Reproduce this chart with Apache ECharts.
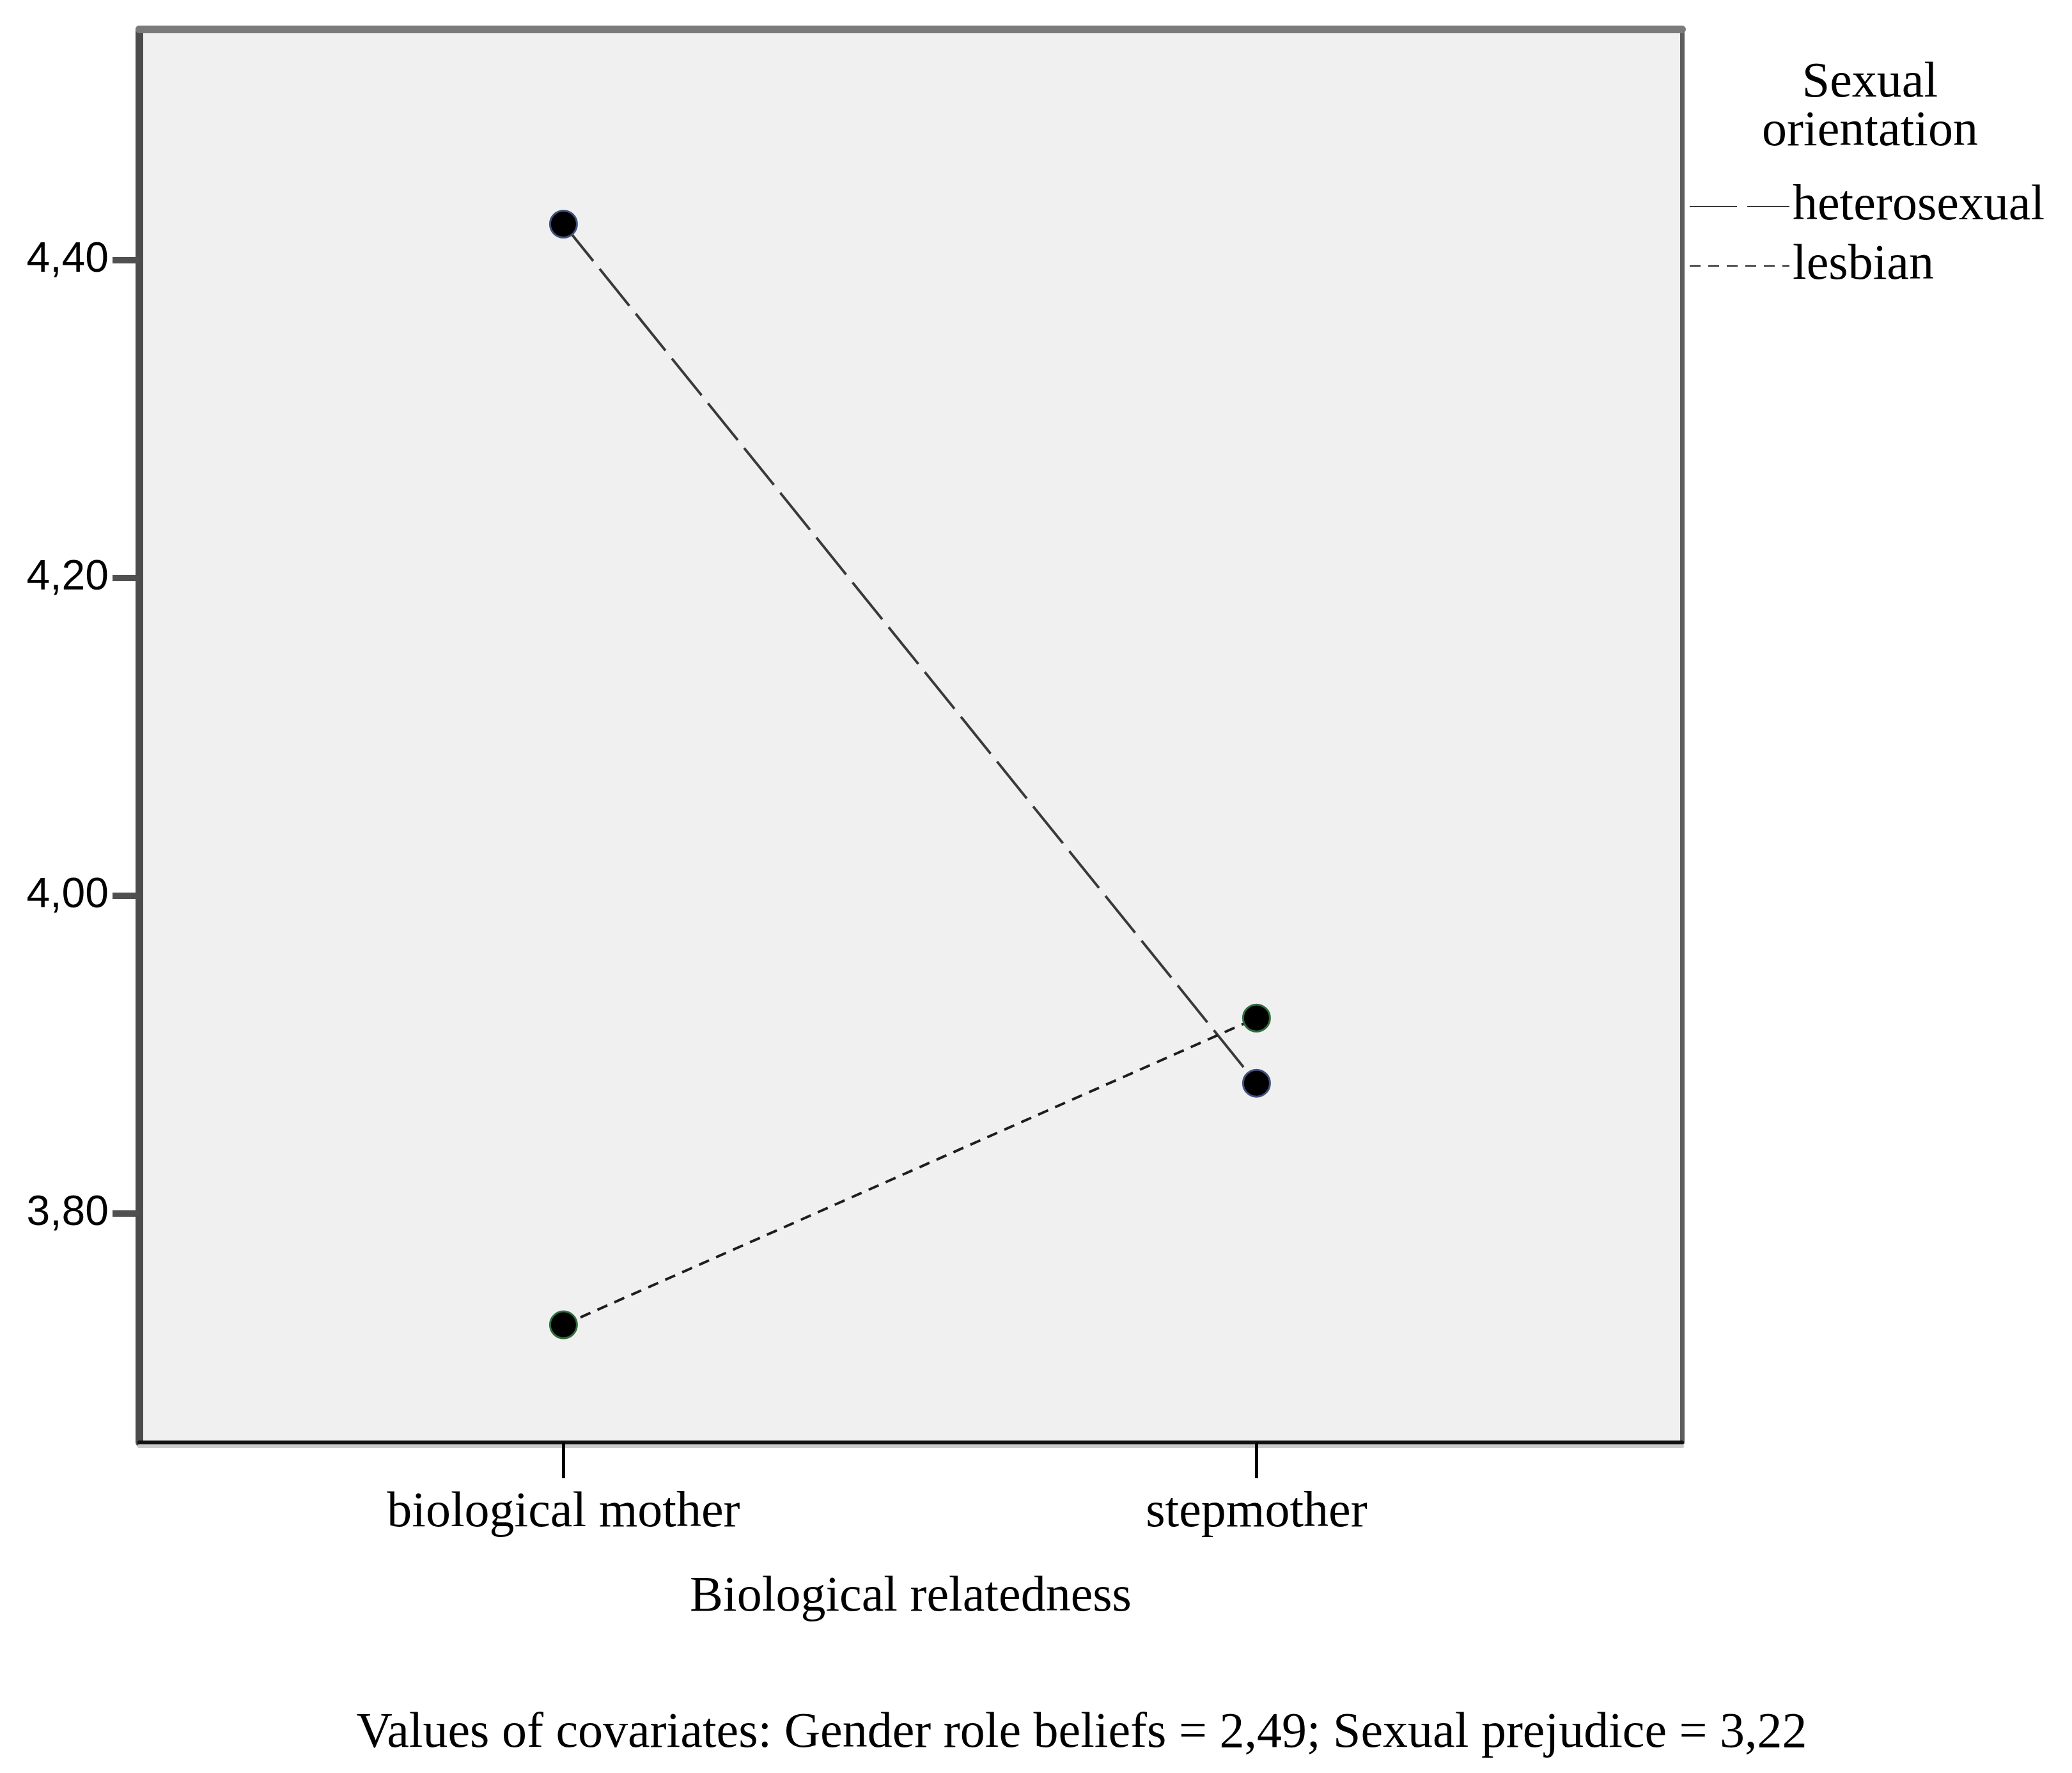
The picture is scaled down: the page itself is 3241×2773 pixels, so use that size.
<!DOCTYPE html>
<html>
<head>
<meta charset="utf-8">
<title>Biological relatedness x Sexual orientation</title>
<script src="https://cdn.jsdelivr.net/npm/echarts@6/dist/echarts.min.js"></script>
<style>
  html, body { margin: 0; padding: 0; background: #ffffff; }
  #chart { width: 3241px; height: 2773px; }
</style>
</head>
<body>
<div id="chart"></div>
<script>
// categories on the x axis
var categories = ['biological mother', 'stepmother'];
// estimated marginal means
var heteroValues = [4.4225, 3.882];
var lesbianValues = [3.730, 3.923];
// y tick labels
var yTicks = [3.80, 4.00, 4.20, 4.40];
var xTicks = [1, 2];
var legendTitle = 'Sexual\norientation';
var footnote = 'Values of covariates: Gender role beliefs = 2,49; Sexual prejudice = 3,22';

var serif = '"Liberation Serif", "Times New Roman", serif';
var sans = '"Liberation Sans", Arial, sans-serif';

function toPoints(values) {
  return values.map(function (v, i) { return [i + 1, v]; });
}

var chart = echarts.init(document.getElementById('chart'), null, { renderer: 'canvas' });

var xMin = 0.388, xMax = 2.614;
var yMin = 3.656, yMax = 4.545;

var option = {
  backgroundColor: '#ffffff',
  animation: false,
  grid: {
    left: 218,
    top: 46,
    width: 2413,
    height: 2210,
    show: true,
    backgroundColor: '#f0f0f0',
    borderWidth: 0,
    containLabel: false,
    outerBoundsMode: 'none'
  },
  legend: {
    orient: 'vertical',
    left: 2642,
    top: 284,
    padding: 0,
    itemWidth: 156,
    itemHeight: 20,
    itemGap: 15,
    selectedMode: false,
    itemStyle: { opacity: 0 },
    textStyle: { fontFamily: serif, fontSize: 78, lineHeight: 78, color: '#000' },
    data: ['heterosexual', 'lesbian']
  },
  graphic: [
    {
      type: 'text',
      x: 2925,
      y: 93,
      style: {
        text: legendTitle,
        fill: '#000',
        font: '78px ' + serif,
        lineHeight: 76,
        align: 'center',
        verticalAlign: 'top',
        textAlign: 'center',
        textVerticalAlign: 'top'
      }
    },
    {
      type: 'text',
      x: 1692,
      y: 2673,
      style: {
        text: footnote,
        fill: '#000',
        font: '78px ' + serif,
        lineHeight: 78,
        align: 'center',
        verticalAlign: 'top',
        textAlign: 'center',
        textVerticalAlign: 'top'
      }
    }
  ],
  xAxis: [
    {
      type: 'value',
      position: 'bottom',
      min: xMin,
      max: xMax,
      name: 'Biological relatedness',
      nameLocation: 'middle',
      nameGap: 204,
      nameTextStyle: { fontFamily: serif, fontSize: 78, lineHeight: 78, color: '#000' },
      axisLine: {
        show: true,
        onZero: false,
        lineStyle: { color: '#111111', width: 6, shadowColor: '#cccccc', shadowOffsetY: 6, shadowBlur: 0 }
      },
      axisTick: {
        show: true,
        customValues: xTicks,
        length: 56,
        lineStyle: { color: '#000', width: 5 }
      },
      axisLabel: {
        customValues: xTicks,
        margin: 72,
        fontFamily: serif,
        fontSize: 78,
        lineHeight: 78,
        color: '#000',
        formatter: function (v) { return categories[Math.round(v) - 1] || ''; }
      },
      splitLine: { show: false }
    },
    {
      type: 'value',
      position: 'top',
      min: xMin,
      max: xMax,
      axisLine: { show: true, onZero: false, lineStyle: { color: '#7a7a7a', width: 12 } },
      axisTick: { show: false },
      axisLabel: { show: false },
      splitLine: { show: false }
    }
  ],
  yAxis: [
    {
      type: 'value',
      position: 'left',
      min: yMin,
      max: yMax,
      axisLine: { show: true, onZero: false, lineStyle: { color: '#4c4c4c', width: 12 } },
      axisTick: {
        show: true,
        customValues: yTicks,
        length: 42,
        lineStyle: { color: '#505050', width: 10 }
      },
      axisLabel: {
        customValues: yTicks,
        margin: 48,
        fontFamily: sans,
        fontSize: 66,
        color: '#000',
        formatter: function (v) { return v.toFixed(2).replace('.', ','); }
      },
      splitLine: { show: false }
    },
    {
      type: 'value',
      position: 'right',
      min: yMin,
      max: yMax,
      axisLine: { show: true, onZero: false, lineStyle: { color: '#5e5e5e', width: 7 } },
      axisTick: { show: false },
      axisLabel: { show: false },
      splitLine: { show: false }
    }
  ],
  series: [
    {
      name: 'heterosexual',
      type: 'line',
      xAxisIndex: 0,
      yAxisIndex: 0,
      data: toPoints(heteroValues),
      symbol: 'circle',
      symbolSize: 42,
      itemStyle: { color: '#000000', borderColor: '#42507e', borderWidth: 3 },
      lineStyle: { color: '#3a3a3a', width: 4, type: [74, 16] },
      emphasis: { disabled: true }
    },
    {
      name: 'lesbian',
      type: 'line',
      xAxisIndex: 0,
      yAxisIndex: 0,
      data: toPoints(lesbianValues),
      symbol: 'circle',
      symbolSize: 42,
      itemStyle: { color: '#000000', borderColor: '#2f6d3d', borderWidth: 3 },
      lineStyle: { color: '#1e1e1e', width: 4, type: [17, 12] },
      emphasis: { disabled: true }
    }
  ]
};

chart.setOption(option);
</script>
</body>
</html>
